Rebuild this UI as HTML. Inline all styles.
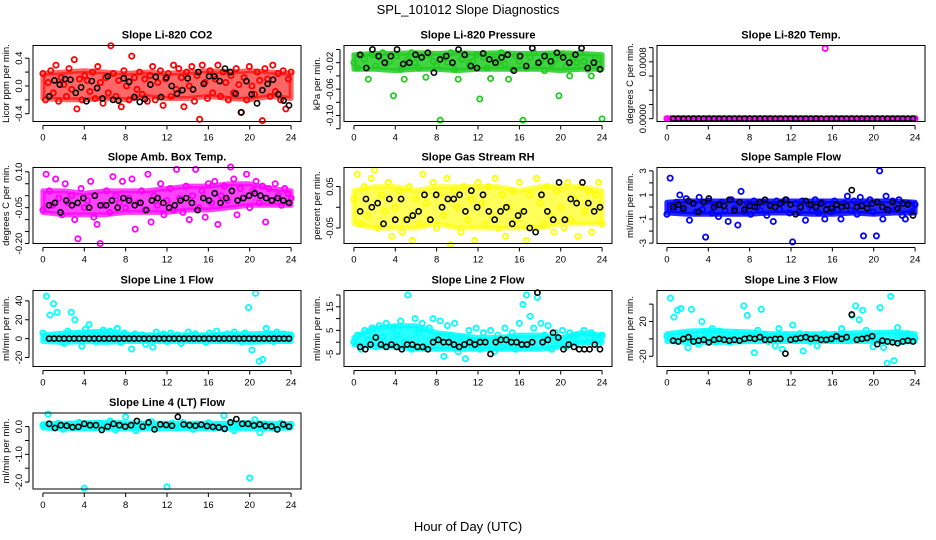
<!DOCTYPE html>
<html><head><meta charset="utf-8"><style>
html,body{margin:0;padding:0;background:#fff}
svg{display:block;font-family:"Liberation Sans",sans-serif}
</style></head><body>
<svg id="c" width="936" height="540" viewBox="0 0 936 540">
<text x="468" y="14" text-anchor="middle" font-size="13">SPL_101012  Slope Diagnostics</text>
<text x="468" y="531" text-anchor="middle" font-size="13">Hour of Day (UTC)</text>
</svg>
<script>
// ---- data (samples evenly spaced over 0-24 h) ----
const xTicks = [0,4,8,12,16,20,24];
const bandHours = [0,2,4,6,8,10,12,14,16,18,20,22,24];
const co2Color = [0.18,-0.2,0.05,0.22,-0.1,0.3,-0.22,0.12,0.02,-0.15,0.25,-0.05,0.38,-0.33,0.1,-0.2,0.15,0.08,-0.08,0.2,-0.18,0.28,0.05,-0.25,0.12,-0.1,0.58,0.18,-0.15,0.08,-0.3,0.22,0.0,-0.2,0.43,0.12,-0.05,0.2,-0.12,0.1,-0.22,0.15,0.28,-0.2,0.05,0.22,-0.28,0.1,0.18,-0.15,0.3,-0.05,0.25,0.12,-0.3,0.2,0.0,0.28,-0.22,0.15,-0.48,0.3,0.05,-0.18,0.22,-0.1,0.1,0.3,-0.15,0.2,0.05,-0.2,0.15,-0.1,0.25,0.02,-0.38,0.12,-0.2,0.28,0.0,-0.12,0.2,0.08,-0.5,0.25,0.1,-0.15,0.3,-0.08,0.18,-0.2,0.22,-0.33,0.1,0.2];
const co2Black = [-0.15,0.08,0.02,0.1,0.09,-0.1,-0.02,-0.22,0.07,-0.03,-0.18,0.14,-0.2,-0.21,0.11,0.06,-0.16,-0.23,-0.19,0.02,0.13,-0.16,0.12,0.0,-0.11,-0.06,0.11,-0.05,0.2,0.03,0.14,0.14,0.07,0.25,0.2,-0.11,-0.38,0.07,-0.12,-0.25,-0.06,0.03,0.09,-0.12,-0.21,-0.28];
const co2Lo = [-0.18,-0.2,-0.2,-0.18,-0.2,-0.15,-0.18,-0.18,-0.15,-0.18,-0.2,-0.15,-0.18];
const co2Hi = [0.18,0.2,0.22,0.2,0.18,0.2,0.18,0.2,0.22,0.2,0.22,0.2,0.18];
const presColor = [-0.02,-0.028,-0.01,-0.015,-0.045,-0.008,-0.025,-0.012,-0.005,-0.022,-0.018,-0.07,-0.01,-0.03,-0.045,-0.015,-0.005,-0.02,-0.028,-0.012,-0.042,-0.008,-0.018,-0.025,-0.107,-0.012,-0.02,-0.005,-0.03,-0.045,-0.015,-0.01,-0.022,-0.018,-0.008,-0.075,-0.012,-0.028,-0.044,-0.015,-0.02,-0.005,-0.022,-0.045,-0.03,-0.01,-0.018,-0.107,-0.028,-0.012,-0.005,-0.025,-0.018,-0.032,-0.01,-0.022,-0.015,-0.07,-0.008,-0.025,-0.04,-0.012,-0.02,-0.005,-0.018,-0.03,-0.04,-0.012,-0.022,-0.105];
const presBlack = [-0.008,-0.028,0.0,-0.01,-0.02,-0.01,0.0,-0.022,-0.02,-0.008,-0.012,-0.005,-0.035,-0.015,-0.01,-0.02,0.0,-0.008,-0.025,-0.028,-0.006,-0.015,-0.02,-0.012,-0.008,-0.032,-0.01,-0.025,0.002,-0.02,-0.01,-0.018,-0.005,-0.012,-0.02,-0.008,0.002,-0.028,-0.02,-0.03];
const presLo = [-0.03,-0.03,-0.032,-0.03,-0.03,-0.032,-0.03,-0.03,-0.03,-0.03,-0.032,-0.03,-0.03];
const presHi = [-0.008,-0.006,-0.006,-0.005,-0.006,-0.005,-0.006,-0.005,-0.006,-0.006,-0.005,-0.006,-0.008];
const tempColor = [0,0,0,0,0,0,0,0,0,0,0,0,0,0,0,0,0,0,0,0,0,0,0,0,0,0,0,0,0,0,0,0,0,0,0,0,0,0,0,0,0,0,0,0,0.00099,0,0,0,0,0,0,0,0,0,0,0,0,0,0,0,0,0,0,0,0,0,0,0,0,0];
const tempBlack = [0,0,0,0,0,0,0,0,0,0,0,0,0,0,0,0,0,0,0,0,0,0,0,0,0,0,0,0,0,0,0,0,0,0,0,0,0,0,0,0,0,0,0,0,0,0,0,0];
const tempLo = [0,0,0,0,0,0,0,0,0,0,0,0,0];
const tempHi = [0,0,0,0,0,0,0,0,0,0,0,0,0];
const boxColor = [-0.06,0.09,0.02,-0.04,0.07,-0.01,-0.08,0.05,-0.03,0.0,-0.1,-0.18,0.03,-0.05,-0.02,0.06,-0.09,-0.12,-0.2,-0.04,0.02,-0.07,0.08,0.0,-0.03,0.06,-0.05,-0.01,0.07,-0.14,-0.03,0.02,-0.06,0.09,-0.11,0.0,-0.04,0.05,-0.08,-0.02,0.03,-0.06,0.11,-0.01,-0.07,0.04,-0.1,0.0,0.11,-0.05,0.02,-0.09,0.05,-0.03,0.06,-0.12,0.0,0.04,-0.02,0.12,0.07,-0.08,0.03,-0.01,0.09,-0.05,0.02,0.06,-0.03,0.04,-0.11,0.03,-0.02,0.05,0.0,-0.04,0.03,0.01,-0.01];
const boxBlack = [-0.04,-0.03,-0.07,-0.02,-0.04,-0.03,-0.01,-0.05,0.0,-0.04,-0.04,-0.02,-0.05,-0.01,-0.02,-0.04,-0.03,-0.06,-0.02,-0.01,-0.03,-0.05,-0.04,-0.02,-0.01,-0.03,-0.06,-0.01,-0.02,0.01,-0.03,-0.01,0.02,-0.02,-0.01,0.0,0.01,0.0,-0.01,-0.02,-0.01,-0.02,-0.03];
const boxLo = [-0.07,-0.08,-0.08,-0.08,-0.07,-0.07,-0.07,-0.06,-0.06,-0.05,-0.04,-0.04,-0.04];
const boxHi = [0.02,0.02,0.01,0.02,0.02,0.02,0.03,0.04,0.04,0.05,0.05,0.03,0.02];
const rhColor = [0.02,0.08,-0.04,0.05,-0.02,0.07,0.09,-0.05,0.03,-0.01,0.06,-0.07,0.0,0.04,-0.06,-0.03,0.05,-0.08,0.02,-0.04,0.08,0.01,-0.03,0.06,-0.05,0.03,-0.02,0.07,-0.09,0.04,0.0,-0.06,0.05,-0.03,0.02,-0.08,0.06,0.01,-0.04,0.05,-0.02,0.07,-0.05,0.03,-0.07,0.0,0.04,-0.03,0.06,-0.01,-0.08,0.03,-0.05,0.07,0.01,-0.04,0.05,-0.02,-0.06,0.04,0.0,-0.05,0.06,-0.03,0.02,-0.07,0.05,-0.01,0.04,-0.06,0.03,0.06,-0.04];
const rhBlack = [-0.01,0.02,0.0,0.01,-0.04,0.02,-0.03,0.02,-0.03,-0.02,-0.01,0.03,-0.03,0.03,0.0,0.02,0.02,0.03,-0.01,0.04,0.0,0.03,-0.01,-0.03,-0.01,0.0,-0.04,-0.02,-0.01,-0.05,-0.06,0.03,-0.01,-0.03,0.06,-0.03,0.02,0.01,0.06,0.01,-0.01,0.0];
const rhLo = [-0.04,-0.05,-0.05,-0.05,-0.04,-0.05,-0.05,-0.05,-0.05,-0.05,-0.04,-0.04,-0.04];
const rhHi = [0.04,0.05,0.05,0.04,0.05,0.05,0.05,0.05,0.04,0.05,0.05,0.05,0.04];
const flowColor = [-0.6,2.4,-0.2,0.4,1.0,-0.3,0.7,-1.1,0.3,-0.4,0.8,-0.2,-2.5,0.5,-0.5,0.2,-0.8,0.4,-0.3,-1.2,0.6,-0.1,-1.5,1.3,-0.4,0.3,-0.6,0.5,0.0,-0.3,0.4,-0.7,0.2,-1.2,0.5,-0.2,0.4,0.6,-0.5,-2.9,0.3,-0.4,0.5,-1.1,0.2,-0.3,0.6,-0.5,0.4,-1.0,0.2,-0.4,0.5,-0.2,-1.0,0.3,0.9,-0.3,0.5,-0.6,0.8,-2.4,0.3,0.6,-0.4,-2.4,3.0,-1.0,0.9,-0.3,0.5,-0.2,0.6,-0.7,-1.0,0.3,-0.4,0.2];
const flowBlack = [0.0,0.2,-0.1,0.5,0.3,-0.4,0.4,0.7,0.0,0.2,0.1,0.6,-0.3,0.4,-0.2,0.1,0.0,0.4,0.6,0.1,0.0,0.3,0.6,0.2,-0.6,0.0,0.5,0.2,0.0,0.3,-0.2,-0.1,0.2,0.0,0.1,1.4,0.0,0.1,-0.1,0.3,0.4,0.0,-0.2,0.4,-0.1,0.3,0.2,-0.7];
const flowLo = [-0.5,-0.6,-0.6,-0.6,-0.6,-0.5,-0.5,-0.6,-0.6,-0.5,-0.6,-0.5,-0.5];
const flowHi = [0.4,0.5,0.5,0.5,0.5,0.5,0.5,0.5,0.5,0.5,0.5,0.5,0.4];
const l1Color = [6,45,25,37,28,3,-5,8,28,20,5,-8,10,15,4,-3,2,9,-1,8,3,11,-4,6,2,-11,5,0,4,-6,3,-9,7,1,5,-3,6,0,4,-5,2,7,-2,5,0,3,-4,6,1,8,-2,3,5,-1,7,2,-3,6,33,-12,48,-24,-22,11,4,-3,7,2,5,-1,3];
const l1Black = [0,0,0,0,0,0,0,0,0,0,0,0,0,0,0,0,0,0,0,0,0,0,0,0,0,0,0,0,0,0,0,0,0,0,0,0,0,0,0,0,0,0,0,0,0,0,0,0,0];
const l1Lo = [-3,-4,-3,-4,-3,-3,-3,-3,-3,-3,-4,-3,-3];
const l1Hi = [4,6,7,8,5,4,4,4,4,5,5,6,5];
const l2Color = [0,3,-3,5,1,6,-2,7,2,8,-1,6,3,9,0,20,-3,10,4,8,-2,6,10,1,9,-6,7,3,8,-4,2,-7,5,0,6,-3,4,-1,5,-4,3,-2,6,-1,4,-3,8,16,20,11,6,19,8,3,7,-3,4,1,5,-2,4,1,3,-1,5,0,4,2,-1,3];
const l2Black = [-2,-3,-1,2,-1,-2,-1,-2,-3,-1,-1,-2,-2,-3,0,1,0,0,-1,-2,-1,0,-1,0,0,-5,0,1,1,0,0,-1,-1,0,21,0,1,4,2,-3,-1,-2,-3,-3,-3,-1,-3];
const l2Lo = [-1,-2,-2,-3,-3,-3,-3,-3,-3,-3,-2,0,0];
const l2Hi = [2,6,7,7,4,3,2,2,3,3,2,4,3];
const l3Color = [3,47,25,33,35,5,-10,34,5,-6,20,8,4,12,-3,9,1,6,-4,3,7,-2,38,27,4,-16,10,34,5,-3,3,-8,12,-12,5,1,16,-2,6,-14,5,-3,4,-8,-1,6,3,-2,5,0,12,5,-2,27,38,22,33,10,3,-9,-2,36,-10,-28,49,-25,13,4,-2,6,3,1];
const l3Black = [-2,-3,0,2,-3,-2,-1,-4,-1,0,-1,-2,-1,-2,0,1,0,2,-1,-1,0,0,-17,-1,0,1,2,0,1,-1,-1,0,3,0,2,28,-1,0,1,3,-6,-2,-3,-4,-5,-3,-2,-3];
const l3Lo = [-3,-4,-4,-4,-3,-3,-3,-3,-3,-3,-3,-4,-3];
const l3Hi = [6,9,10,9,8,6,6,6,6,7,7,8,6];
const l4Color = [0.05,0.45,0.0,0.12,-0.1,0.08,-0.05,0.15,-2.22,0.1,-0.04,0.12,0.0,0.2,-0.12,0.08,0.35,0.02,-0.15,0.1,0.0,0.18,-0.08,0.05,-2.17,0.12,-0.05,0.15,0.02,-0.1,0.08,0.0,0.14,-0.06,0.05,0.4,0.1,-0.15,0.0,0.12,-1.85,0.25,-0.22,0.1,0.05,-0.08,0.12,0.0,0.08];
const l4Black = [0.1,-0.05,0.05,0.03,-0.02,-0.01,0.1,0.05,0.05,-0.12,0.0,0.1,0.05,0.0,0.05,0.2,0.0,0.15,-0.1,0.08,0.06,0.03,0.35,0.08,0.05,0.03,0.07,0.02,-0.01,-0.03,-0.08,0.15,0.27,0.1,0.1,0.04,0.08,0.02,0.01,-0.1,0.08,0.0];
const l4Lo = [-0.05,-0.08,-0.08,-0.08,-0.08,-0.08,-0.08,-0.08,-0.08,-0.08,-0.08,-0.08,-0.05];
const l4Hi = [0.1,0.12,0.14,0.16,0.14,0.12,0.12,0.12,0.12,0.12,0.14,0.12,0.1];
// ---- panel definitions ----
const titles = ["Slope Li-820 CO2","Slope Li-820 Pressure","Slope Li-820 Temp.","Slope Amb. Box Temp.","Slope Gas Stream RH","Slope Sample Flow","Slope Line 1 Flow","Slope Line 2 Flow","Slope Line 3 Flow","Slope Line 4 (LT) Flow"];
const yTitles = ["Licor ppm per min.","kPa per min.","degrees C per min.","degrees C per min.","percent per min.","ml/min per min.","ml/min per min.","ml/min per min.","ml/min per min.","ml/min per min."];
const yMins = [-0.512,-0.109,-0.00004,-0.2,-0.0875,-3.03,-29.5,-10.3,-31.8,-2.25];
const yMaxs = [0.583,0.006,0.00103,0.118,0.096,3.28,51,21.9,55.7,0.49];
const yTicks = [[-0.4,-0.2,0,0.2,0.4],[-0.12,-0.1,-0.08,-0.06,-0.04,-0.02,0],[0,0.0002,0.0004,0.0006,0.0008,0.001],[-0.2,-0.15,-0.1,-0.05,0,0.05,0.1],[-0.05,0,0.05],[-3,-2,-1,0,1,2,3],[-20,0,20,40],[-5,0,5,10,15,20],[-20,0,20,40],[-2,-1.5,-1,-0.5,0]];
const yTickLabels = [["-0.4","","0.0","","0.4"],["","-0.10","","-0.06","","-0.02",""],["0.0000","","","","0.0008",""],["-0.20","","","-0.05","","","0.10"],["-0.05","","0.05"],["-3","","-1","","1","","3"],["-20","0","20","40"],["-5","","5","","15",""],["-20","","20",""],["-2.0","","-1.0","","0.0"]];
const colors = ["#ff0000","#22cc22","#ff00ff","#ff00ff","#ffff00","#0000ff","#00ffff","#00ffff","#00ffff","#00ffff"];
const bandOpacity = [0.6,0.85,0.85,0.75,0.65,0.85,0.85,0.85,0.85,0.85];
const colorSeries = [co2Color,presColor,tempColor,boxColor,rhColor,flowColor,l1Color,l2Color,l3Color,l4Color];
const blackSeries = [co2Black,presBlack,tempBlack,boxBlack,rhBlack,flowBlack,l1Black,l2Black,l3Black,l4Black];
const bandLos = [co2Lo,presLo,tempLo,boxLo,rhLo,flowLo,l1Lo,l2Lo,l3Lo,l4Lo];
const bandHis = [co2Hi,presHi,tempHi,boxHi,rhHi,flowHi,l1Hi,l2Hi,l3Hi,l4Hi];

const NS="http://www.w3.org/2000/svg";
const svg=document.getElementById('c');
function mk(tag,attrs,parent){const e=document.createElementNS(NS,tag);for(const k in attrs)e.setAttribute(k,attrs[k]);(parent||svg).appendChild(e);return e;}
const colL=[33,344,657], rowT=[45.5,167.5,290.5,413], W=268, H=76;
titles.forEach((t,p)=>{
  const L=colL[p%3], T=rowT[Math.floor(p/3)];
  const g=mk('g',{});
  
  
  const xs=v=>L+(v+0.96)/25.92*W;
  const ys=v=>T+H-(v-yMins[p])/(yMaxs[p]-yMins[p])*H;
  const ti=mk('text',{x:L+W/2,y:T-7,'text-anchor':'middle','font-size':'11','font-weight':'bold'},g);ti.textContent=t;
  
  
  const yt=mk('text',{x:0,y:0,'text-anchor':'middle','font-size':'9.5',transform:`translate(${L-24},${T+H/2}) rotate(-90)`},g);yt.textContent=yTitles[p];
  
  
  // dense point cloud envelope
  const lo=bandLos[p], hi=bandHis[p];
  let d='';
  bandHours.forEach((h,i)=>{d+=(i?'L':'M')+xs(h).toFixed(1)+','+ys(hi[i]).toFixed(1);});
  for(let i=bandHours.length-1;i>=0;i--){d+='L'+xs(bandHours[i]).toFixed(1)+','+ys(lo[i]).toFixed(1);}
  d+='Z';
  const band=mk('path',{d:d,fill:colors[p],stroke:colors[p],'stroke-width':5,'stroke-linejoin':'round','fill-opacity':bandOpacity[p],'stroke-opacity':bandOpacity[p]},g);
  
  
  // points
  const cs=colorSeries[p];
  cs.forEach((v,i)=>{const c=mk('circle',{cx:xs(i*24/(cs.length-1)),cy:ys(v),r:2.6,fill:'none',stroke:colors[p],'stroke-width':1.8},g);
    
    });
  const bs=blackSeries[p];
  bs.forEach((v,i)=>{const c=mk('circle',{cx:xs(0.6+i*23.2/(bs.length-1)),cy:ys(v),r:2.6,fill:'none',stroke:'#000','stroke-width':1.6},g);
    
    });
  const box=mk('rect',{x:L,y:T,width:W,height:H,fill:'none',stroke:'#000','stroke-width':1},g);
  
  
  // x axis
  mk('line',{x1:xs(0),x2:xs(24),y1:T+H+4,y2:T+H+4,stroke:'#000'},g);
  xTicks.forEach(v=>{mk('line',{x1:xs(v),x2:xs(v),y1:T+H+4,y2:T+H+8,stroke:'#000'},g);
    const tx=mk('text',{x:xs(v),y:T+H+19,'text-anchor':'middle','font-size':'9.5'},g);tx.textContent=v;
    
    });
  // y axis
  const tk=yTicks[p];
  mk('line',{x1:L-4,x2:L-4,y1:ys(tk[0]),y2:ys(tk[tk.length-1]),stroke:'#000'},g);
  tk.forEach((v,i)=>{mk('line',{x1:L-8,x2:L-4,y1:ys(v),y2:ys(v),stroke:'#000'},g);
    const lb=yTickLabels[p][i]; if(!lb)return;
    const tx=mk('text',{x:0,y:0,'text-anchor':'middle','font-size':'9.5',transform:`translate(${L-11},${ys(v)}) rotate(-90)`},g);tx.textContent=lb;
    
    });
});
</script>
</body></html>
